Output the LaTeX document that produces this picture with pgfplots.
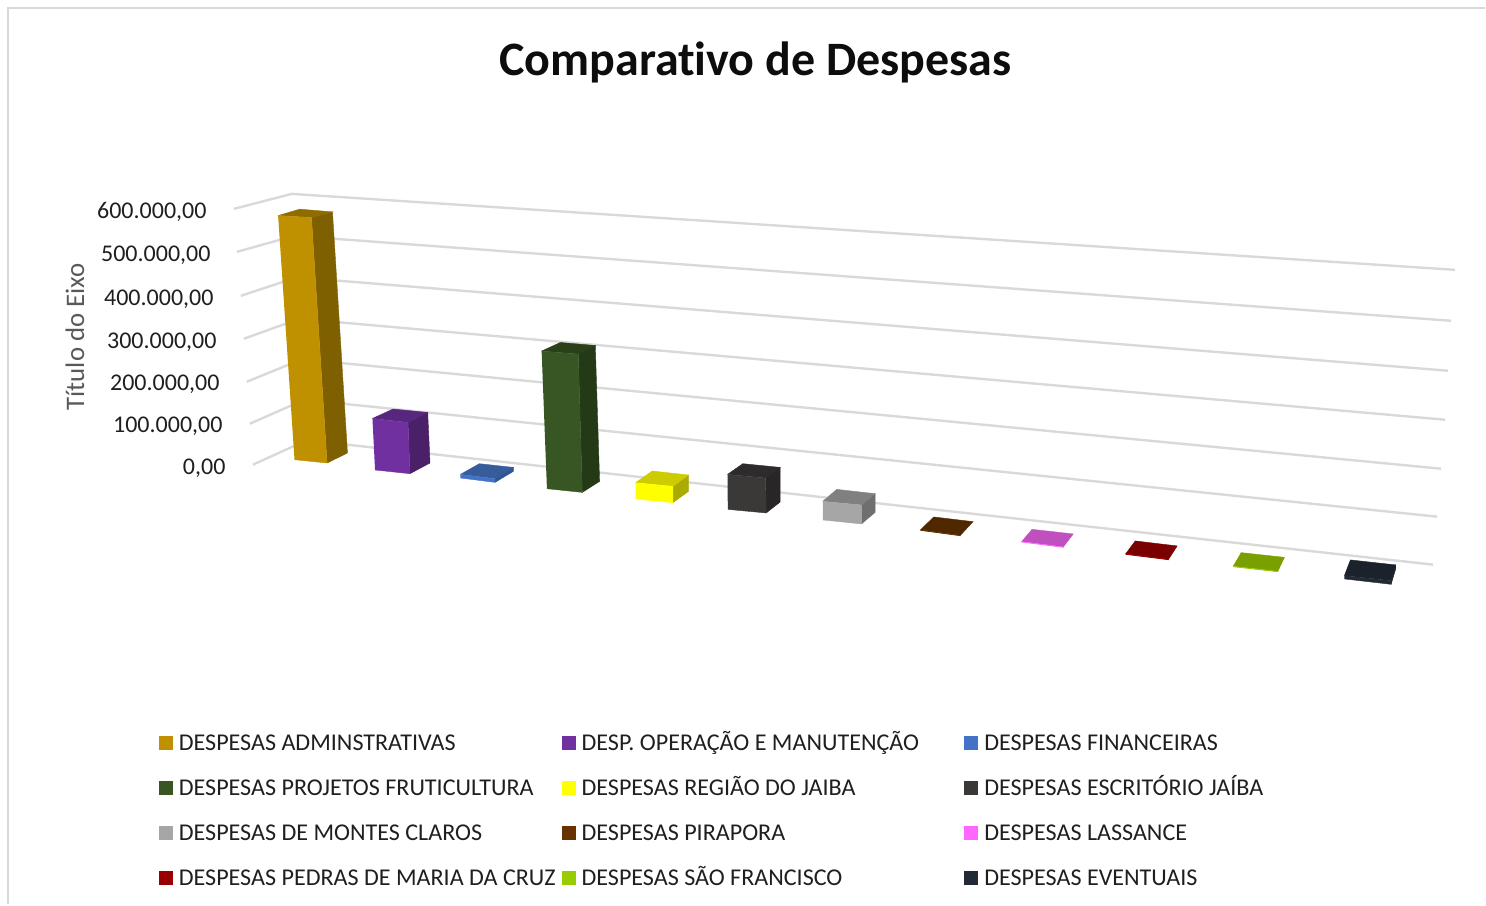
\documentclass[border=0pt]{standalone}
\usepackage{fontspec}
\setmainfont[Ligatures=NoCommon]{Carlito}
\usepackage{pgfplots}
\pgfplotsset{compat=1.18}

\definecolor{gridc}{HTML}{D9D9D9}
\definecolor{goldF}{HTML}{BF9000}\definecolor{goldS}{HTML}{7F6000}\definecolor{goldT}{HTML}{8F6C00}
\definecolor{purpF}{HTML}{7030A0}\definecolor{purpS}{HTML}{4A2069}\definecolor{purpT}{HTML}{57267D}
\definecolor{blueF}{HTML}{4472C4}\definecolor{blueS}{HTML}{2F5597}\definecolor{blueT}{HTML}{365C9A}
\definecolor{grenF}{HTML}{375623}\definecolor{grenS}{HTML}{243A17}\definecolor{grenT}{HTML}{294018}
\definecolor{yellF}{HTML}{FFFF00}\definecolor{yellS}{HTML}{AAAA00}\definecolor{yellT}{HTML}{CCCC00}
\definecolor{darkF}{HTML}{3B3838}\definecolor{darkS}{HTML}{282626}\definecolor{darkT}{HTML}{2D2B2B}
\definecolor{grayF}{HTML}{A6A6A6}\definecolor{grayS}{HTML}{6F6F6F}\definecolor{grayT}{HTML}{808080}
\definecolor{brwnF}{HTML}{663300}\definecolor{brwnT}{HTML}{4F2800}
\definecolor{pinkF}{HTML}{FF66FF}\definecolor{pinkT}{HTML}{C050C0}
\definecolor{redF}{HTML}{990000}\definecolor{redT}{HTML}{7A0000}
\definecolor{limeF}{HTML}{99CC00}\definecolor{limeT}{HTML}{7AA000}
\definecolor{navyF}{HTML}{222A35}\definecolor{navyT}{HTML}{1B222B}

% side and top faces stay out of the legend
\newcommand{\face}[2]{\addplot[forget plot,draw=#1,line width=0.2pt,fill=#1] coordinates {#2};}
\newcommand{\front}[3]{\addplot[draw=#1,line width=0.2pt,fill=#1] coordinates {#2};\addlegendentry{#3}}
\newcommand{\gridline}[1]{\addplot[forget plot,gridc,line width=1.2pt] coordinates {#1};}

\begin{document}
\begin{tikzpicture}
\begin{axis}[
    scale only axis,
    width=743pt, height=452.5pt,
    xmin=0, xmax=1486, ymin=0, ymax=905,
    y dir=reverse,
    hide axis,
    clip=false,
    no markers,
    legend columns=3,
    legend cell align=left,
    legend image code/.code={\path[#1,draw=none] (0pt,-3.5pt) rectangle (7pt,3.5pt);},
    legend style={
        at={(axis cs:159,721)}, anchor=north west,
        draw=none, fill=none, inner sep=0pt, outer sep=0pt,
        font=\fontsize{12.05}{13}\selectfont, text=black!88,
        row sep=0pt, column sep=0pt,
        nodes={inner sep=0pt, outer sep=0pt, text height=15pt, text depth=7.5pt},
        /tikz/every odd column/.append style={column sep=3pt},
        /tikz/every even column/.append style={text width=191.5pt, align=flush left},
    },
]
\path (axis cs:0,0) rectangle (axis cs:1486,905);

% chart frame
\addplot[forget plot,gridc,line width=1pt] coordinates {(8.5,905) (8.5,8) (1486,8)};

% gridlines: stub on the side wall, then the back wall
\gridline{(234,209) (292,194) (1456,270)}
\gridline{(237,252) (294.5,236) (1452,321)}
\gridline{(241,296) (297,277.5) (1449,371)}
\gridline{(244,339) (299.5,319) (1446,420)}
\gridline{(247,382) (302,359.5) (1442,469)}
\gridline{(250,424) (304.5,400) (1438,517)}
\gridline{(253,465) (307,440.5) (1434,565)}

% gold
\face{goldS}{(311.7,217.7) (332.7,212) (347.7,453.3) (327.3,463.3)}
\face{goldT}{(278.3,215.7) (300,209.3) (332.7,212) (311.7,217.7)}
\front{goldF}{(278.3,215.7) (311.7,217.7) (327.3,463.3) (294.7,460)}{DESPESAS ADMINSTRATIVAS}
% purple
\face{purpS}{(408.3,422.7) (428,412.7) (430.3,463.3) (410.3,474)}
\face{purpT}{(372.7,418.7) (393.3,409.3) (428,412.7) (408.3,422.7)}
\front{purpF}{(372.7,418.7) (408.3,422.7) (410.3,474) (375.3,470.3)}{DESP. OPERAÇÃO E MANUTENÇÃO}
% blue
\face{blueS}{(495.3,479) (513.7,467.7) (513.7,471.7) (495.3,482.7)}
\face{blueT}{(460.7,474.7) (479.7,464) (513.7,467.7) (495.3,479)}
\front{blueF}{(460.7,474.7) (495.3,479) (495.3,482.7) (460.7,478.3)}{DESPESAS FINANCEIRAS}
% green
\face{grenS}{(578.7,354.3) (595.7,345.7) (600,481.7) (582.7,492.7)}
\face{grenT}{(542,351.3) (560.7,342.7) (595.7,345.7) (578.7,354.3)}
\front{grenF}{(542,351.3) (578.7,354.3) (582.7,492.7) (547.3,489)}{DESPESAS PROJETOS FRUTICULTURA}
% yellow
\face{yellS}{(673.3,486.7) (689,475.3) (689,491.7) (673.3,503)}
\face{yellT}{(636,483) (652.7,471.3) (689,475.3) (673.3,486.7)}
\front{yellF}{(636,483) (673.3,486.7) (673.3,503) (636,499.3)}{DESPESAS REGIÃO DO JAIBA}
% dark
\face{darkS}{(766,478.3) (780.7,467.7) (780.7,502.3) (766.7,513.3)}
\face{darkT}{(728,474.7) (743.3,464) (780.7,467.7) (766,478.3)}
\front{darkF}{(728,474.7) (766,478.3) (766.7,513.3) (728.3,509.7)}{DESPESAS ESCRITÓRIO JAÍBA}
% gray
\face{grayS}{(862,505.3) (875.7,494) (875.7,512.7) (862,524.3)}
\face{grayT}{(823.3,501.7) (837.3,489.7) (875.7,494) (862,505.3)}
\front{grayF}{(823.3,501.7) (862,505.3) (862,524.3) (823.3,520.3)}{DESPESAS DE MONTES CLAROS}
% brown
\face{brwnT}{(921,530.3) (934.3,517.3) (973.7,522) (961,535.7)}
\front{brwnF}{(921,530.3) (961,535.7) (961,536.2) (921,530.8)}{DESPESAS PIRAPORA}
% pink
\face{pinkT}{(1022.3,542) (1032.7,529.7) (1074,534.3) (1064,547.3)}
\front{pinkF}{(1022.3,542) (1064,547.3) (1064,547.8) (1022.3,542.5)}{DESPESAS LASSANCE}
% red
\face{redT}{(1126.3,554.3) (1136,541.3) (1178,546.3) (1169.3,559.7)}
\front{redF}{(1126.3,554.3) (1169.3,559.7) (1169.3,560.2) (1126.3,554.8)}{DESPESAS PEDRAS DE MARIA DA CRUZ}
% lime
\face{limeT}{(1234,566.7) (1242,553) (1285.3,557.7) (1278.7,571.7)}
\front{limeF}{(1234,566.7) (1278.7,571.7) (1278.7,572.2) (1234,567.2)}{DESPESAS SÃO FRANCISCO}
% navy
\face{navyT}{(1345.3,576) (1351.3,560.3) (1396.7,565.3) (1392,581)}
\face{navyT}{(1392,581) (1396.7,565.3) (1396.7,569) (1392,584.7)}
\front{navyF}{(1345.3,576) (1392,581) (1392,584.7) (1345.3,579.3)}{DESPESAS EVENTUAIS}

% value axis labels follow the slanted side wall
\begin{scope}[every node/.style={font=\fontsize{12}{13}\selectfont,text=black!88,anchor=east,inner sep=0pt}]
\node at (axis cs:207,212) {600.000,00};
\node at (axis cs:211,255) {500.000,00};
\node at (axis cs:214,299) {400.000,00};
\node at (axis cs:217,342) {300.000,00};
\node at (axis cs:220,385) {200.000,00};
\node at (axis cs:223,427) {100.000,00};
\node at (axis cs:226,469) {0,00};
\end{scope}
\node[rotate=90,font=\fontsize{13.4}{15}\selectfont,text=black!65,inner sep=0pt] at (axis cs:75,337) {Título do Eixo};
\node[font=\bfseries\fontsize{24}{26}\selectfont,text=black!95,inner sep=0pt] at (axis cs:756,62) {Comparativo de Despesas};
\end{axis}
\end{tikzpicture}
\end{document}
